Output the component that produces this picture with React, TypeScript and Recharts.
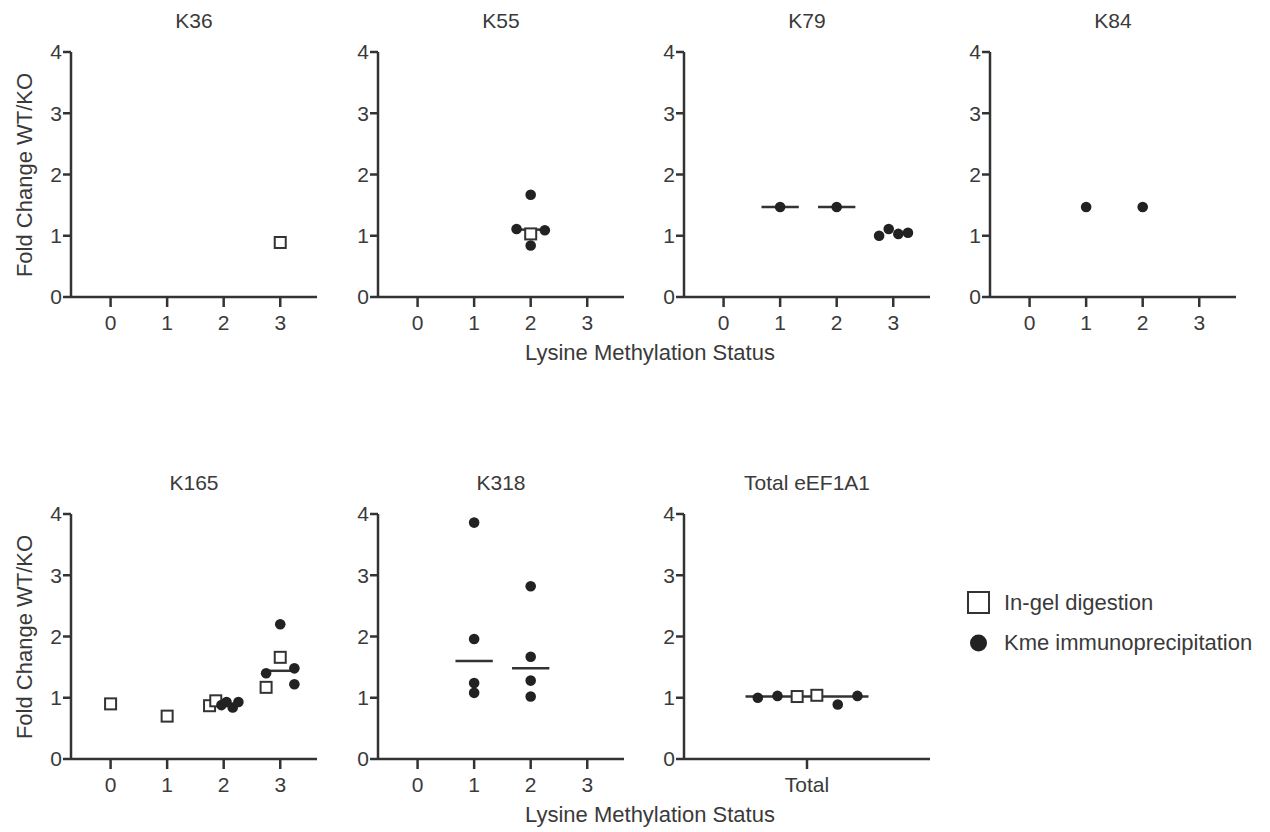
import { Scatter, ScatterChart, XAxis, YAxis } from "recharts";

type Pt = { x: number; y: number };

// x = methylation state (small offsets are the plot's horizontal scatter), y = fold change WT/KO
const k36InGel: Pt[] = [{ x: 3, y: 0.89 }];

const k55InGel: Pt[] = [{ x: 2, y: 1.03 }];
const k55Kme: Pt[] = [
  { x: 1.75, y: 1.11 },
  { x: 2, y: 1.67 },
  { x: 2, y: 0.84 },
  { x: 2.25, y: 1.09 }
];
const k55Median: Pt[] = [{ x: 2, y: 1.1 }];

const k79Kme: Pt[] = [
  { x: 1, y: 1.47 },
  { x: 2, y: 1.47 },
  { x: 2.75, y: 1.0 },
  { x: 2.92, y: 1.11 },
  { x: 3.09, y: 1.03 },
  { x: 3.26, y: 1.05 }
];
const k79Median: Pt[] = [
  { x: 1, y: 1.47 },
  { x: 2, y: 1.47 }
];

const k84Kme: Pt[] = [
  { x: 1, y: 1.47 },
  { x: 2, y: 1.47 }
];

const k165InGel: Pt[] = [
  { x: 0, y: 0.9 },
  { x: 1, y: 0.7 },
  { x: 1.75, y: 0.87 },
  { x: 1.86, y: 0.95 },
  { x: 2.75, y: 1.17 },
  { x: 3, y: 1.66 }
];
const k165Kme: Pt[] = [
  { x: 1.96, y: 0.88 },
  { x: 2.05, y: 0.93 },
  { x: 2.16, y: 0.84 },
  { x: 2.26, y: 0.93 },
  { x: 2.75, y: 1.4 },
  { x: 3, y: 2.2 },
  { x: 3.25, y: 1.48 },
  { x: 3.25, y: 1.22 }
];
const k165Median: Pt[] = [{ x: 3, y: 1.44 }];

const k318Kme: Pt[] = [
  { x: 1, y: 3.86 },
  { x: 1, y: 1.96 },
  { x: 1, y: 1.24 },
  { x: 1, y: 1.08 },
  { x: 2, y: 2.82 },
  { x: 2, y: 1.67 },
  { x: 2, y: 1.28 },
  { x: 2, y: 1.02 }
];
const k318Median: Pt[] = [
  { x: 1, y: 1.6 },
  { x: 2, y: 1.48 }
];

const totalInGel: Pt[] = [
  { x: -0.08, y: 1.02 },
  { x: 0.08, y: 1.04 }
];
const totalKme: Pt[] = [
  { x: -0.4, y: 1.0 },
  { x: -0.24, y: 1.03 },
  { x: 0.25, y: 0.89 },
  { x: 0.41, y: 1.03 }
];
const totalMedian: Pt[] = [{ x: 0, y: 1.02 }];

const statusTicks = [0, 1, 2, 3];
const totalTicks = [0];
const foldTicks = [0, 1, 2, 3, 4];

const INK = "#333";
const TEXT = "#3a3a3a";
const FONT = '"Liberation Sans", Arial, sans-serif';

const Square = (p: any) => (
  <rect
    x={p.cx - 5.5}
    y={p.cy - 5.5}
    width={11}
    height={11}
    fill="#fff"
    stroke={INK}
    strokeWidth={2}
  />
);

const Dot = (p: any) => <circle cx={p.cx} cy={p.cy} r={5.3} fill="#222" />;

const Nothing = () => <g />;

type PanelProps = {
  title: string;
  left: number;
  top: number;
  inGel?: Pt[];
  kme?: Pt[];
  medians?: Pt[];
  halfWidth?: number;
  domain: [number, number];
  ticks: number[];
  tickLabel?: (v: number) => string;
};

function Panel({
  title,
  left,
  top,
  inGel = [],
  kme = [],
  medians = [],
  halfWidth = 0.33,
  domain,
  ticks,
  tickLabel
}: PanelProps) {
  return (
    <div style={{ position: "absolute", left, top, width: 330, height: 340 }}>
      <div
        style={{
          position: "absolute",
          left: 71,
          width: 246,
          top: 10,
          lineHeight: "22px",
          fontSize: 21,
          textAlign: "center",
          color: TEXT
        }}
      >
        {title}
      </div>
      <ScatterChart width={330} height={340} margin={{ top: 52, right: 13, bottom: 0, left: 0 }}>
        <XAxis
          type="number"
          dataKey="x"
          domain={domain}
          ticks={ticks}
          tickFormatter={tickLabel}
          height={43}
          tickSize={10}
          tickMargin={8}
          axisLine={{ stroke: INK, strokeWidth: 2.5 }}
          tickLine={{ stroke: INK, strokeWidth: 2.5 }}
          tick={{ fill: TEXT, fontSize: 21 }}
        />
        <YAxis
          type="number"
          dataKey="y"
          domain={[0, 4]}
          ticks={foldTicks}
          width={71}
          tickSize={8}
          tickMargin={1}
          axisLine={{ stroke: INK, strokeWidth: 2.5 }}
          tickLine={{ stroke: INK, strokeWidth: 2.5 }}
          tick={{ fill: TEXT, fontSize: 21 }}
        />
        {medians.map((m, i) => (
          <Scatter
            key={"m" + i}
            data={[
              { x: m.x - halfWidth, y: m.y },
              { x: m.x + halfWidth, y: m.y }
            ]}
            line={{ stroke: INK, strokeWidth: 2.5 }}
            shape={Nothing}
            isAnimationActive={false}
          />
        ))}
        <Scatter data={inGel} shape={Square} isAnimationActive={false} />
        <Scatter data={kme} shape={Dot} isAnimationActive={false} />
      </ScatterChart>
    </div>
  );
}

const axisTitle = (top: number) => (
  <div
    style={{
      position: "absolute",
      left: 650,
      top,
      transform: "translate(-50%, -50%)",
      fontSize: 22,
      whiteSpace: "nowrap",
      color: TEXT
    }}
  >
    Lysine Methylation Status
  </div>
);

const yTitle = (cy: number) => (
  <div
    style={{
      position: "absolute",
      left: 25,
      top: cy,
      transform: "translate(-50%, -50%) rotate(-90deg)",
      fontSize: 22,
      whiteSpace: "nowrap",
      color: TEXT
    }}
  >
    Fold Change WT/KO
  </div>
);

export default function App() {
  return (
    <div
      style={{
        position: "absolute",
        left: 0,
        top: 0,
        width: 1270,
        height: 832,
        background: "#fff",
        fontFamily: FONT,
        overflow: "hidden"
      }}
    >
      <Panel title="K36" left={0} top={0} inGel={k36InGel} domain={[-0.7, 3.65]} ticks={statusTicks} />
      <Panel
        title="K55"
        left={307}
        top={0}
        inGel={k55InGel}
        kme={k55Kme}
        medians={k55Median}
        halfWidth={0.25}
        domain={[-0.7, 3.65]}
        ticks={statusTicks}
      />
      <Panel
        title="K79"
        left={613}
        top={0}
        kme={k79Kme}
        medians={k79Median}
        domain={[-0.7, 3.65]}
        ticks={statusTicks}
      />
      <Panel title="K84" left={919} top={0} kme={k84Kme} domain={[-0.7, 3.65]} ticks={statusTicks} />

      <Panel
        title="K165"
        left={0}
        top={462}
        inGel={k165InGel}
        kme={k165Kme}
        medians={k165Median}
        halfWidth={0.25}
        domain={[-0.7, 3.65]}
        ticks={statusTicks}
      />
      <Panel
        title="K318"
        left={307}
        top={462}
        kme={k318Kme}
        medians={k318Median}
        domain={[-0.7, 3.65]}
        ticks={statusTicks}
      />
      <Panel
        title="Total eEF1A1"
        left={613}
        top={462}
        inGel={totalInGel}
        kme={totalKme}
        medians={totalMedian}
        halfWidth={0.5}
        domain={[-1, 1]}
        ticks={totalTicks}
        tickLabel={() => "Total"}
      />

      {yTitle(175)}
      {yTitle(637)}
      {axisTitle(353)}
      {axisTitle(815)}

      <div style={{ position: "absolute", left: 966, top: 588, color: TEXT, fontSize: 22 }}>
        <div style={{ display: "flex", alignItems: "center", height: 30 }}>
          <svg width={26} height={26}>
            <rect x={2} y={2} width={21} height={21} fill="#fff" stroke={INK} strokeWidth={2} />
          </svg>
          <span style={{ marginLeft: 12 }}>In-gel digestion</span>
        </div>
        <div style={{ display: "flex", alignItems: "center", height: 30, marginTop: 10 }}>
          <svg width={26} height={26}>
            <circle cx={12.5} cy={13} r={8.5} fill="#222" />
          </svg>
          <span style={{ marginLeft: 12 }}>Kme immunoprecipitation</span>
        </div>
      </div>
    </div>
  );
}
